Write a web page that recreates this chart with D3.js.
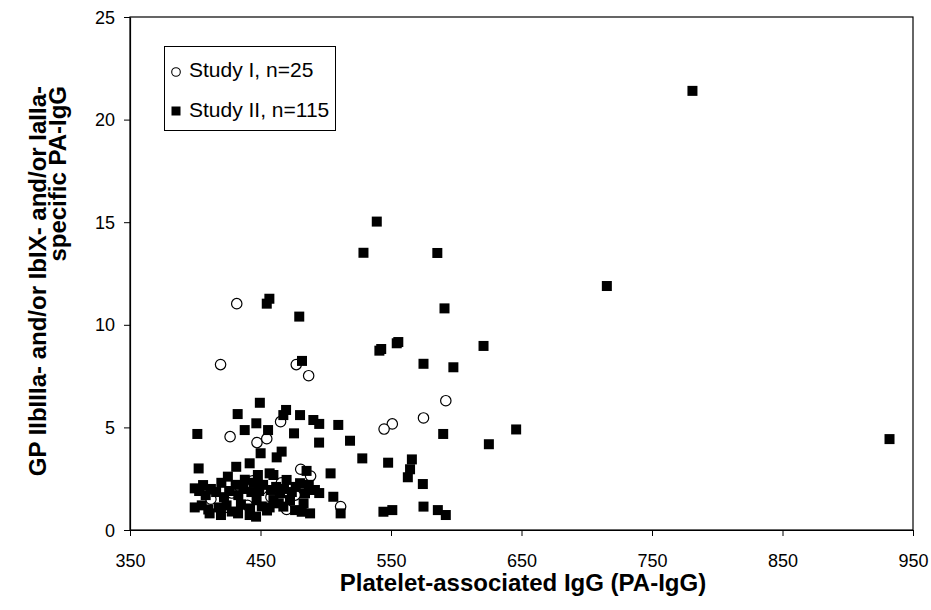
<!DOCTYPE html>
<html>
<head>
<meta charset="utf-8">
<script src="https://cdn.jsdelivr.net/npm/d3@7"></script>
<style>
  html, body { margin: 0; padding: 0; background: #fff; }
  svg { display: block; font-family: "Liberation Sans", Arial, sans-serif; }
</style>
</head>
<body>
<svg id="chart" width="931" height="610"></svg>
<script>
// ---- data ----
const xTicks = [350, 450, 550, 650, 750, 850, 950];
const yTicks = [0, 5, 10, 15, 20, 25];
const xTitle = "Platelet-associated IgG (PA-IgG)";
const yTitleLines = ["GP IIbIIIa- and/or IbIX- and/or IaIIa-", "specific PA-IgG"];
const legendLabels = ["Study I, n=25", "Study II, n=115"];

// Study I (open circles): [PA-IgG, specific PA-IgG]
const studyI = [
  [431.8, 11.03], [419.4, 8.06], [477.4, 8.06], [486.9, 7.52], [592, 6.3],
  [574.9, 5.46], [551, 5.17], [544.7, 4.92], [465.4, 5.28], [426.7, 4.55],
  [447.3, 4.26], [454.8, 4.45], [480.8, 2.96], [488.4, 2.63], [511.4, 1.14],
  [476.5, 1.7], [412, 1.5], [428, 1.8], [440, 1.2], [451, 2.0],
  [458, 1.6], [466, 2.3], [470, 1.0], [444, 2.4], [423, 1.1]
];

// Study II (filled squares)
const studyIIOuter = [
  [781, 21.4], [715.4, 11.89], [932, 4.43], [539.1, 15.03], [528.9, 13.51],
  [585.5, 13.5], [591, 10.8], [541.1, 8.74], [542.5, 8.82], [554.4, 9.1],
  [555.6, 9.16], [574.9, 8.1], [597.8, 7.93], [620.9, 8.97], [456.8, 11.27],
  [454.8, 11.03], [479.7, 10.4], [481.8, 8.24], [590, 4.68], [645.9, 4.9],
  [625, 4.18], [547.8, 3.28], [566, 3.44], [564.6, 2.96], [562.9, 2.57],
  [574.4, 2.24], [544.2, 0.89], [551, 0.97], [574.9, 1.14], [585.9, 0.97],
  [592, 0.73]
];
const studyIIMid = [
  [401.6, 4.68], [437.9, 4.87], [446.8, 5.2], [455.8, 4.87], [402.6, 3.0],
  [450.1, 3.74], [441.7, 3.25], [431.4, 3.08], [469.6, 5.85], [467.5, 5.6],
  [480.3, 5.6], [490.5, 5.36], [495, 5.17], [475.7, 4.71], [509.6, 5.12],
  [494.9, 4.26], [518.6, 4.35], [528, 3.49], [466.2, 3.82], [462.4, 3.54],
  [485.3, 2.88], [503.7, 2.76], [491.7, 1.95], [484.1, 1.79], [505.8, 1.62],
  [476.5, 0.97], [481.6, 0.89], [488, 0.81], [511.4, 0.81], [449.5, 6.2],
  [432.5, 5.65]
];
const studyIICluster = [
  [399.6, 2.03], [399.6, 1.1], [403, 1.9], [405, 1.2], [406, 2.19],
  [408, 1.7], [410, 1.0], [411, 0.81], [412, 2.0], [416, 1.85],
  [418, 1.1], [419.7, 0.73], [420, 2.3], [422, 1.6], [424, 1.2],
  [425, 2.6], [426, 1.9], [428, 0.9], [431, 2.2], [432.8, 0.81],
  [433, 1.7], [435, 1.25], [437, 2.0], [438, 2.45], [441.7, 0.73],
  [442, 1.05], [443, 1.85], [445, 2.3], [446.6, 0.65], [447, 1.45],
  [448, 2.68], [449, 1.9], [451, 1.15], [452, 2.2], [455, 0.95],
  [457, 2.76], [457, 1.1], [458, 1.95], [459.9, 1.46], [459.9, 2.68],
  [462, 2.1], [464, 1.3], [465, 1.79], [467.5, 1.14], [468, 2.0],
  [470, 2.44], [472.6, 1.46], [474, 1.85], [477, 2.1], [480.3, 2.28],
  [483, 1.3], [487, 2.2], [495, 1.8]
];
const studyII = studyIIOuter.concat(studyIIMid, studyIICluster);

// ---- drawing ----
const svg = d3.select("#chart");
const plot = { left: 130, right: 913, top: 17, bottom: 530 };

const x = d3.scaleLinear().domain([350, 950]).range([plot.left, plot.right]);
const y = d3.scaleLinear().domain([0, 25]).range([plot.bottom, plot.top]);

// frame (top & right)
svg.append("rect")
  .attr("x", plot.left).attr("y", plot.top)
  .attr("width", plot.right - plot.left).attr("height", plot.bottom - plot.top)
  .attr("fill", "none").attr("stroke", "#000").attr("stroke-width", 1.2);

// axes
const xAxis = svg.append("g")
  .attr("transform", `translate(0,${plot.bottom})`)
  .call(d3.axisBottom(x).tickValues(xTicks).tickSize(6).tickSizeOuter(0).tickPadding(18));
const yAxis = svg.append("g")
  .attr("transform", `translate(${plot.left},0)`)
  .call(d3.axisLeft(y).tickValues(yTicks).tickSize(6).tickSizeOuter(0).tickPadding(9));

[xAxis, yAxis].forEach(g => {
  g.select(".domain").attr("stroke", "#000").attr("stroke-width", 1.2);
  g.selectAll(".tick line").attr("stroke", "#000").attr("stroke-width", 1);
  g.selectAll(".tick text")
    .attr("fill", "#000")
    .style("font-size", "18px")
    .style("font-family", "'Liberation Sans', Arial, sans-serif");
});
xAxis.selectAll(".tick text").attr("dy", "0.71em");
yAxis.selectAll(".tick text").attr("dy", "0.34em");

// Study I circles (drawn beneath squares)
svg.append("g").selectAll("circle")
  .data(studyI).join("circle")
  .attr("cx", d => x(d[0])).attr("cy", d => y(d[1]))
  .attr("r", 5.2)
  .attr("fill", "#fff").attr("stroke", "#000").attr("stroke-width", 1.2);

// Study II squares
const sq = 10;
svg.append("g").selectAll("rect")
  .data(studyII).join("rect")
  .attr("x", d => x(d[0]) - sq / 2).attr("y", d => y(d[1]) - sq / 2)
  .attr("width", sq).attr("height", sq)
  .attr("fill", "#000");

// axis titles
svg.append("text")
  .attr("x", 523).attr("y", 591)
  .attr("text-anchor", "middle")
  .style("font-size", "24px").style("font-weight", "bold")
  .text(xTitle);

const yT = svg.append("g").attr("transform", "translate(0,86) rotate(-90)");
yT.selectAll("text").data(yTitleLines).join("text")
  .attr("x", 0).attr("y", (d, i) => 46 + i * 20)
  .attr("text-anchor", "end")
  .style("font-size", "24px").style("font-weight", "bold")
  .text(d => d);

// legend
const lg = svg.append("g");
lg.append("rect")
  .attr("x", 164.5).attr("y", 46.5).attr("width", 171).attr("height", 84)
  .attr("fill", "#fff").attr("stroke", "#000").attr("stroke-width", 1);
lg.append("circle").attr("cx", 176).attr("cy", 72).attr("r", 4.3)
  .attr("fill", "#fff").attr("stroke", "#000").attr("stroke-width", 1.1);
lg.append("rect").attr("x", 171.5).attr("y", 106.5).attr("width", 9).attr("height", 9)
  .attr("fill", "#000");
lg.selectAll("text.lab").data(legendLabels).join("text")
  .attr("class", "lab")
  .attr("x", 189).attr("y", (d, i) => 77 + i * 40)
  .style("font-size", "21px")
  .text(d => d);
</script>
</body>
</html>
